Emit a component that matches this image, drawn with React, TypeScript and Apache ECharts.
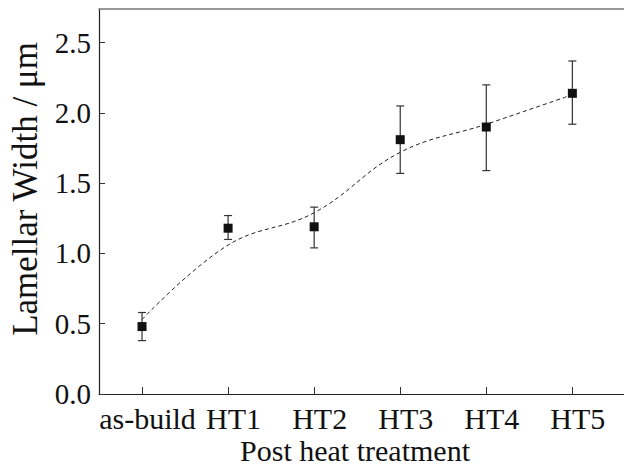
import React, { useEffect, useRef } from "react";
import * as echarts from "echarts";

const categories = ["as-build", "HT1", "HT2", "HT3", "HT4", "HT5"];
const meanValues = [0.48, 1.18, 1.19, 1.81, 1.9, 2.14];
const errLower = [0.38, 1.1, 1.04, 1.57, 1.59, 1.92];
const errUpper = [0.58, 1.27, 1.33, 2.05, 2.2, 2.37];
const fitValues = [0.53, 1.06, 1.29, 1.72, 1.92, 2.13];
const yTicks = [0, 0.5, 1.0, 1.5, 2.0, 2.5];
const xTicks = [0, 1, 2, 3, 4, 5];

const SERIF = '"Liberation Serif", "Times New Roman", serif';

export default function App() {
  const ref = useRef<HTMLDivElement>(null);
  useEffect(() => {
    document.body.style.margin = "0";
    if (!ref.current) return;
    const chart = echarts.init(ref.current, null, { renderer: "svg" });
    const meanData = meanValues.map((v, i) => [i, v]);
    const fitData = fitValues.map((v, i) => [i, v]);
    const errData = meanValues.map((_, i) => [i, errLower[i], errUpper[i]]);
    chart.setOption({
      animation: false,
      backgroundColor: "#fff",
      grid: { left: 99, right: 0, top: 9, bottom: 72 },
      xAxis: [
        {
          type: "value",
          position: "bottom",
          min: -0.5,
          max: 5.6,
          axisLine: { show: true, onZero: false, lineStyle: { color: "#222", width: 1.2 } },
          axisTick: {
            show: true,
            inside: true,
            length: 7,
            customValues: xTicks,
            lineStyle: { color: "#333" },
          },
          splitLine: { show: false },
          axisLabel: {
            customValues: xTicks,
            formatter: (v: number) => categories[Math.round(v)] ?? "",
            fontFamily: SERIF,
            fontSize: 30,
            color: "#111",
            margin: 9,
            padding: [0, 0, 0, 11],
          },
        },
        {
          type: "value",
          position: "top",
          min: -0.5,
          max: 5.6,
          axisLine: { show: true, onZero: false, lineStyle: { color: "#777", width: 1.5 } },
          axisTick: { show: false },
          axisLabel: { show: false },
          splitLine: { show: false },
        },
      ],
      yAxis: {
        type: "value",
        min: 0,
        max: 2.74,
        axisLine: { show: true, onZero: false, lineStyle: { color: "#222", width: 1.2 } },
        axisTick: {
          show: true,
          inside: true,
          length: 6,
          customValues: yTicks,
          lineStyle: { color: "#333" },
        },
        splitLine: { show: false },
        axisLabel: {
          customValues: yTicks,
          formatter: (v: number) => v.toFixed(1),
          fontFamily: SERIF,
          fontSize: 29,
          color: "#111",
          margin: 8,
        },
      },
      graphic: [
        {
          type: "text",
          x: 25,
          y: 189,
          rotation: Math.PI / 2,
          style: {
            text: "Lamellar Width / μm",
            fontFamily: SERIF,
            fontSize: 35,
            fill: "#111",
            textAlign: "center",
            textVerticalAlign: "middle",
          },
        },
        {
          type: "text",
          x: 355,
          y: 450,
          style: {
            text: "Post heat treatment",
            fontFamily: SERIF,
            fontSize: 30,
            fill: "#111",
            textAlign: "center",
            textVerticalAlign: "middle",
          },
        },
      ],
      series: [
        {
          type: "line",
          data: fitData,
          smooth: 0.4,
          showSymbol: false,
          lineStyle: { color: "#222", width: 1, type: [4, 3] },
          z: 2,
        },
        {
          type: "custom",
          data: errData,
          z: 3,
          renderItem: (params: any, api: any) => {
            const x = api.value(0);
            const lo = api.coord([x, api.value(1)]);
            const hi = api.coord([x, api.value(2)]);
            const hw = 4;
            const style = { stroke: "#333", lineWidth: 1.2 };
            return {
              type: "group",
              children: [
                { type: "line", shape: { x1: lo[0], y1: lo[1], x2: hi[0], y2: hi[1] }, style },
                { type: "line", shape: { x1: lo[0] - hw, y1: lo[1], x2: lo[0] + hw, y2: lo[1] }, style },
                { type: "line", shape: { x1: hi[0] - hw, y1: hi[1], x2: hi[0] + hw, y2: hi[1] }, style },
              ],
            };
          },
        },
        {
          type: "scatter",
          data: meanData,
          symbol: "rect",
          symbolSize: 9,
          itemStyle: { color: "#111", opacity: 1 },
          z: 4,
        },
      ],
    });
    return () => chart.dispose();
  }, []);
  return <div ref={ref} style={{ width: 624, height: 466 }} />;
}
